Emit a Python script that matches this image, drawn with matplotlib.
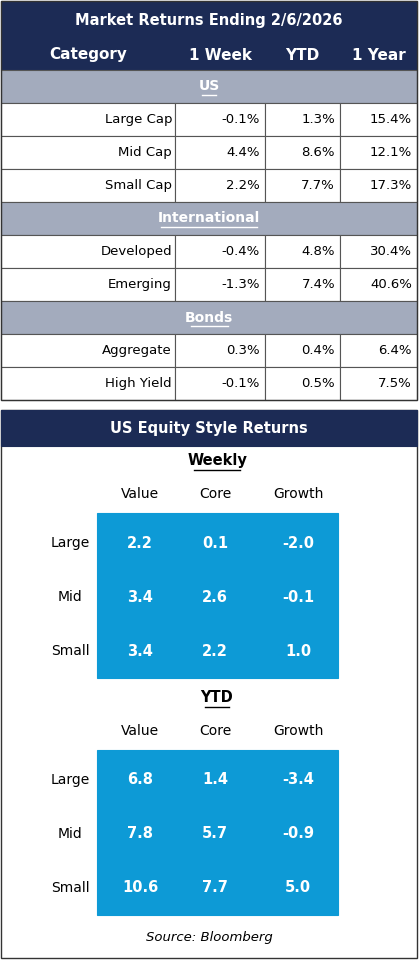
import matplotlib
matplotlib.use("Agg")
import matplotlib.pyplot as plt
from matplotlib.patches import Rectangle

title = "Market Returns Ending 2/6/2026"
columns = ["Category", "1 Week", "YTD", "1 Year"]
sections = ["US", "International", "Bonds"]
section_rows = [
    [("Large Cap", "-0.1%", "1.3%", "15.4%"),
     ("Mid Cap", "4.4%", "8.6%", "12.1%"),
     ("Small Cap", "2.2%", "7.7%", "17.3%")],
    [("Developed", "-0.4%", "4.8%", "30.4%"),
     ("Emerging", "-1.3%", "7.4%", "40.6%")],
    [("Aggregate", "0.3%", "0.4%", "6.4%"),
     ("High Yield", "-0.1%", "0.5%", "7.5%")],
]
style_cols = ["Value", "Core", "Growth"]
style_rows = ["Large", "Mid", "Small"]
weekly = [[2.2, 0.1, -2.0], [3.4, 2.6, -0.1], [3.4, 2.2, 1.0]]
ytd = [[6.8, 1.4, -3.4], [7.8, 5.7, -0.9], [10.6, 7.7, 5.0]]

NAVY = "#1c2b55"
GRAY = "#a3abbd"
BLUE = "#0d9ad6"
LINE = "#555555"

fig = plt.figure(figsize=(4.19, 9.6), dpi=100)
ax = fig.add_axes([0, 0, 1, 1])
ax.set_xlim(0, 419)
ax.set_ylim(960, 0)
ax.axis("off")


def rect(x0, y0, x1, y1, fc="white", ec=LINE, lw=0.8):
    ax.add_patch(Rectangle((x0, y0), x1 - x0, y1 - y0, facecolor=fc, edgecolor=ec, lw=lw))


def txt(x, y, s, size=9.5, ha="center", color="black", weight="normal", **kw):
    return ax.text(x, y, s, fontsize=size, ha=ha, va="center", color=color,
                   weight=weight, **kw)


# --- top table ---
L, R = 1, 417
colx = [1, 175, 265, 340, 417]
rect(L, 1, R, 70, fc=NAVY, ec=NAVY)
txt(209, 20, title, size=10.5, color="white", weight="bold")
txt(88, 55, columns[0], size=11, color="white", weight="bold")
for i in range(1, 4):
    txt((colx[i] + colx[i + 1]) / 2, 55, columns[i], size=11, color="white", weight="bold")

y = 70
rh = 33
for name, rows in zip(sections, section_rows):
    rect(L, y, R, y + rh, fc=GRAY)
    t = txt(209, y + rh / 2, name, size=10, color="white", weight="bold")
    # underline
    w = len(name) * 7.4
    ax.plot([209 - w / 2, 209 + w / 2], [y + rh / 2 + 8, y + rh / 2 + 8], color="white", lw=1)
    y += rh
    for row in rows:
        for i in range(4):
            rect(colx[i], y, colx[i + 1], y + rh)
        txt(172, y + rh / 2, row[0], ha="right")
        for i in range(1, 4):
            txt(colx[i + 1] - 5, y + rh / 2, row[i], ha="right")
        y += rh
rect(L, 1, R, y, fc="none", ec="#333333", lw=1)

# --- style box ---
top = 410
rect(L, top, R, 958, fc="white", ec="#333333", lw=1)
rect(L, top, R, top + 36, fc=NAVY, ec=NAVY)
txt(209, top + 19, "US Equity Style Returns", size=10.5, color="white", weight="bold")

cx = [140, 215, 298]


def grid(ybase, label, vals):
    txt(217, ybase, label, size=10.5, weight="bold")
    w = len(label) * 7.8
    ax.plot([217 - w / 2, 217 + w / 2], [ybase + 9, ybase + 9], color="black", lw=1)
    for x, c in zip(cx, style_cols):
        txt(x, ybase + 33, c, size=10)
    gy = ybase + 52
    rect(97, gy, 338, gy + 165, fc=BLUE, ec=BLUE)
    for r, (lab, row) in enumerate(zip(style_rows, vals)):
        yy = gy + 30 + r * 54
        txt(70, yy, lab, size=10)
        for x, v in zip(cx, row):
            txt(x, yy, f"{v:.1f}", size=10.5, color="white", weight="bold")


grid(461, "Weekly", weekly)
grid(698, "YTD", ytd)
txt(209, 938, "Source: Bloomberg", size=9.5, style="italic")

fig.savefig("out.png", dpi=100)
